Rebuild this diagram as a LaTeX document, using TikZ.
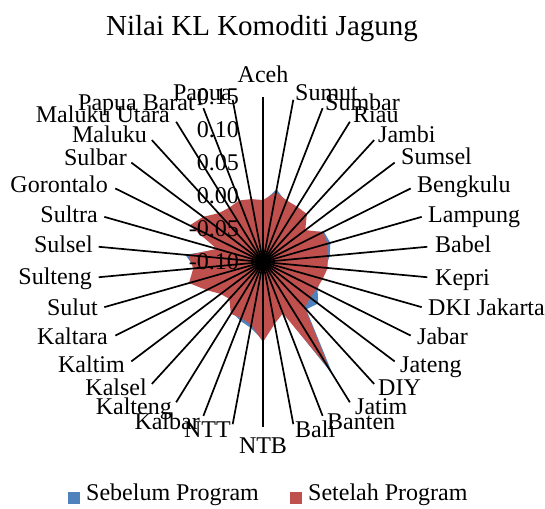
\documentclass[tikz,border=0pt]{standalone}
\usepackage{fontspec}
\setmainfont{Liberation Serif}
\definecolor{sebelum}{HTML}{4F81BD}
\definecolor{setelah}{HTML}{C0504D}
\tikzset{
  lab/.style={font=\fontsize{24}{28}\selectfont, inner sep=0pt, text height=16.5pt, text depth=5pt, yshift=-2pt},
  labR/.style={lab, anchor=west},
  labL/.style={lab, anchor=east},
  ticklab/.style={lab, anchor=east},
  titlelab/.style={font=\fontsize{29}{34}\selectfont, inner sep=0pt},
  spoke/.style={draw=black, line width=1.7pt},
  legbox/.style={minimum size=12pt, inner sep=0pt, draw=none}
}
\begin{document}
\begin{tikzpicture}[x=1pt,y=-1pt]
\useasboundingbox (0,0) rectangle (545,508);
\fill[white] (0,0) rectangle (545,508);
\coordinate (c) at (263,262);
% data points (radius in px; 165 px = 0.25, centre = -0.10)
\foreach \r [count=\i from 0] in {60,74,64,63,63,51,68,70,67,63,60,61,69,64,133,53,61,78,67,63,59,48,51,61,75,68,78,46,80,73,64,62,64,62}
  \coordinate (b\i) at ({263+\r*sin(\i*360/34)},{262-\r*cos(\i*360/34)});
\foreach \r [count=\i from 0] in {62,71,66,65,65,53,67,67,65,65,62,60,59,62,127,55,63,80,64,60,61,50,53,63,77,70,75,48,82,75,66,64,66,64}
  \coordinate (r\i) at ({263+\r*sin(\i*360/34)},{262-\r*cos(\i*360/34)});
\fill[sebelum] (b0) \foreach \i in {1,...,33} {-- (b\i)} -- cycle;
\fill[setelah] (r0) \foreach \i in {1,...,33} {-- (r\i)} -- cycle;
% spokes
\foreach \i in {0,...,33}
  \coordinate (s\i) at ({263+165*sin(\i*360/34)},{262-165*cos(\i*360/34)});
\foreach \i in {0,...,33}
  \draw[spoke] (c) -- (s\i);
% tick labels
\foreach \v [count=\k from 0] in {-0.10,-0.05,0.00,0.05,0.10,0.15}
  \node[ticklab] (t\k) at (239,{262-33*\k}) {\v};
% title
\node[titlelab] (title) at (262,29) {Nilai KL Komoditi Jagung};
% category labels
\node[lab] (Aceh) at (263,75) {Aceh};
\node[labR] (Sumut) at (295,93) {Sumut};
\node[labR] (Sumbar) at (325,103) {Sumbar};
\node[labR] (Riau) at (353,115) {Riau};
\node[labR] (Jambi) at (378,135) {Jambi};
\node[labR] (Sumsel) at (401,157) {Sumsel};
\node[labR] (Bengkulu) at (417,185) {Bengkulu};
\node[labR] (Lampung) at (428,215) {Lampung};
\node[labR] (Babel) at (435,245) {Babel};
\node[labR] (Kepri) at (435,278) {Kepri};
\node[labR] (DKI) at (428,308) {DKI Jakarta};
\node[labR] (Jabar) at (417,337) {Jabar};
\node[labR] (Jateng) at (400,365) {Jateng};
\node[labR] (DIY) at (378,388) {DIY};
\node[labR] (Jatim) at (355,407) {Jatim};
\node[labR] (Banten) at (327,422) {Banten};
\node[labR] (Bali) at (295,430) {Bali};
\node[lab] (NTB) at (263,446) {NTB};
\node[labL] (NTT) at (231,430) {NTT};
\node[labL] (Kalbar) at (200,422) {Kalbar};
\node[labL] (Kalteng) at (172,407) {Kalteng};
\node[labL] (Kalsel) at (147,388) {Kalsel};
\node[labL] (Kaltim) at (125,365) {Kaltim};
\node[labL] (Kaltara) at (108,337) {Kaltara};
\node[labL] (Sulut) at (98,308) {Sulut};
\node[labL] (Sulteng) at (92,277) {Sulteng};
\node[labL] (Sulsel) at (93,245) {Sulsel};
\node[labL] (Sultra) at (98,215) {Sultra};
\node[labL] (Gorontalo) at (108,185) {Gorontalo};
\node[labL] (Sulbar) at (127,158) {Sulbar};
\node[labL] (Maluku) at (147,135) {Maluku};
\node[labL] (MalukuUtara) at (170,115) {Maluku Utara};
\node[labL] (PapuaBarat) at (195,103) {Papua Barat};
\node[labL] (Papua) at (232,93) {Papua};
% legend
\node[legbox, fill=sebelum] (legA) at (74,497.5) {};
\node[labR, text depth=4pt] (legAt) at (86,492.5) {Sebelum Program};
\node[legbox, fill=setelah] (legB) at (296,497.5) {};
\node[labR, text depth=4pt] (legBt) at (308,492.5) {Setelah Program};
\end{tikzpicture}
\end{document}
